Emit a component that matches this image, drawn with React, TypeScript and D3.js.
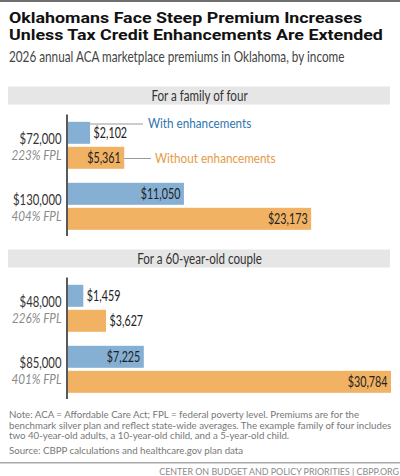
import * as d3 from "d3";
import type { ReactNode } from "react";

const withEnhancements = ["With enhancements"];
const withoutEnhancements = ["Without enhancements"];

const familyIncomes = ["$72,000", "$130,000"];
const familyFpl = ["223% FPL", "404% FPL"];
const familyWith = [2102, 11050];
const familyWithout = [5361, 23173];

const coupleIncomes = ["$48,000", "$85,000"];
const coupleFpl = ["226% FPL", "401% FPL"];
const coupleWith = [1459, 7225];
const coupleWithout = [3627, 30784];

const seriesKeys = ["with", "without"];
const titleLines = [
  "Oklahomans Face Steep Premium Increases",
  "Unless Tax Credit Enhancements Are Extended",
];
const noteLines = [
  "Note: ACA = Affordable Care Act; FPL = federal poverty level. Premiums are for the",
  "benchmark silver plan and reflect state-wide averages. The example family of four includes",
  "two 40-year-old adults, a 10-year-old child, and a 5-year-old child.",
];

const BLUE = "#85b0d4";
const ORANGE = "#f2b264";
const BODY = "Lato, 'Open Sans', sans-serif";
const TITLE = "Roboto, Inter, sans-serif";

const fmt = d3.format("$,");
const x = d3.scaleLinear().domain([0, 30784]).range([68, 391]);
const inner = d3.scaleBand().domain(seriesKeys).range([0, 47]).paddingInner(0.12);

// the reference's face has other proportions than the installed ones, so stretch it horizontally
function Narrow({ x, y, k = 0.85, children, ...rest }: { x: number; y: number; k?: number; children: ReactNode; [key: string]: any }) {
  return (
    <text transform={`translate(${x},${y}) scale(${k},1)`} {...rest}>
      {children}
    </text>
  );
}

function Panel({ top, heading, incomes, fpl, withVals, withoutVals, labelOutside }: {
  top: number;
  heading: string;
  incomes: string[];
  fpl: string[];
  withVals: number[];
  withoutVals: number[];
  labelOutside: boolean[][];
}) {
  const y = d3.scaleBand().domain(incomes).range([top + 35.3, top + 35.3 + 108]).paddingInner(0.23);
  return (
    <g>
      <rect x={8} y={top} width={382} height={18} fill="#e6e6e6" />
      <Narrow x={199.5} y={top + 14} k={0.8} textAnchor="middle" fontSize={14.5} fill="#333">{heading}</Narrow>
      {incomes.map((inc, i) => {
        const y0 = y(inc) ?? 0;
        const mid = y0 + y.bandwidth() / 2;
        return (
          <g key={inc}>
            <Narrow x={61.5} y={mid - 1} k={0.78} textAnchor="end" fontSize={14.5} fill="#333">{inc}</Narrow>
            <Narrow x={61.5} y={mid + 14.5} k={0.9} textAnchor="end" fontSize={13} fontStyle="italic" fill="#8a8a8a">{fpl[i]}</Narrow>
            {seriesKeys.map((k, j) => {
              const v = (k === "with" ? withVals : withoutVals)[i];
              const by = y0 + (inner(k) ?? 0);
              const outside = labelOutside[i][j];
              return (
                <g key={k}>
                  <rect x={x(0)} y={by} width={x(v) - x(0)} height={inner.bandwidth()} fill={k === "with" ? BLUE : ORANGE} />
                  <Narrow
                    x={outside ? x(v) + 3.5 : x(v) - 3.5}
                    y={by + inner.bandwidth() / 2 + 5}
                    k={0.74}
                    textAnchor={outside ? "start" : "end"}
                    fontSize={14.5}
                    fill="#222"
                  >
                    {fmt(v)}
                  </Narrow>
                </g>
              );
            })}
          </g>
        );
      })}
      <line x1={67} x2={67} y1={top + 28} y2={top + 149.5} stroke="#222" strokeWidth={1.5} />
    </g>
  );
}

export default function App() {
  return (
    <svg width={400} height={476} style={{ position: "absolute", left: 0, top: 0, background: "#fff" }} fontFamily={BODY}>
      <rect x={0} y={0} width={400} height={2} fill="#6f6f6f" />
      {titleLines.map((l, i) => (
        <Narrow key={l} x={9} y={22.5 + i * 17.8} k={1.188} fontFamily={TITLE} fontWeight={700} fontSize={15} fill="#111">{l}</Narrow>
      ))}
      <Narrow x={9} y={62} k={0.81} fontSize={14.5} fill="#444">2026 annual ACA marketplace premiums in Oklahoma, by income</Narrow>

      <Panel
        top={86.5}
        heading="For a family of four"
        incomes={familyIncomes}
        fpl={familyFpl}
        withVals={familyWith}
        withoutVals={familyWithout}
        labelOutside={[[true, false], [false, false]]}
      />
      <Panel
        top={249.5}
        heading="For a 60-year-old couple"
        incomes={coupleIncomes}
        fpl={coupleFpl}
        withVals={coupleWith}
        withoutVals={coupleWithout}
        labelOutside={[[true, true], [false, false]]}
      />

      <line x1={x(familyWith[0])} x2={143} y1={124} y2={124} stroke="#999" strokeWidth={1} />
      <Narrow x={148} y={128} k={0.9} fontSize={13} fill="#2f75ad">{withEnhancements[0]}</Narrow>
      <line x1={x(familyWithout[0])} x2={151} y1={158.5} y2={158.5} stroke="#999" strokeWidth={1} />
      <Narrow x={155} y={163} k={0.9} fontSize={13} fill="#e69a45">{withoutEnhancements[0]}</Narrow>

      <text fontSize={9.7} fill="#777">
        {noteLines.map((l, i) => (
          <tspan key={l} x={9} y={418 + i * 10.7}>{l}</tspan>
        ))}
      </text>
      <text x={9} y={454} fontSize={9.7} fill="#777">Source: CBPP calculations and healthcare.gov plan data</text>
      <rect x={0} y={462} width={400} height={1.5} fill="#aaa" />
      <text x={399} y={475} textAnchor="end" fontSize={8.9} fill="#8a8a8a">CENTER ON BUDGET AND POLICY PRIORITIES | CBPP.ORG</text>
    </svg>
  );
}
